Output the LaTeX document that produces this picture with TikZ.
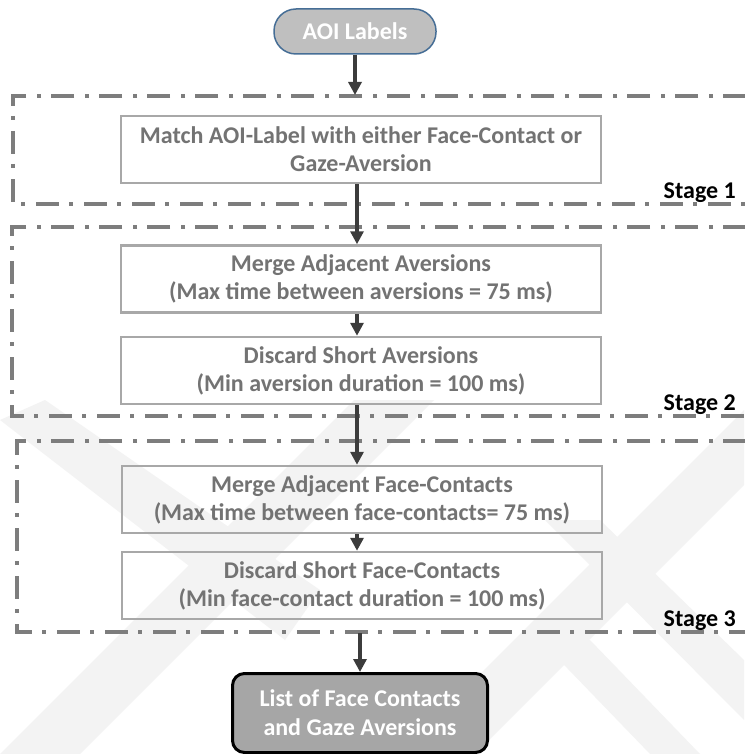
\documentclass[tikz,border=0pt]{standalone}
\usepackage{fontspec}
\setmainfont{Carlito}
\usetikzlibrary{arrows.meta}
\definecolor{dashgray}{RGB}{125,125,125}
\definecolor{boxgray}{RGB}{168,168,168}
\definecolor{txtgray}{RGB}{115,115,115}
\definecolor{arrowgray}{RGB}{60,60,60}
\definecolor{pillfill}{RGB}{191,191,191}
\definecolor{pillborder}{RGB}{70,110,150}
\definecolor{endfill}{RGB}{166,166,166}
\definecolor{wm}{RGB}{243,243,243}
\begin{document}
\begin{tikzpicture}[x=1pt,y=-1pt,
  font=\fontsize{24}{28}\selectfont\bfseries,
  stageline/.style={draw=dashgray, line width=3.2pt, dash pattern=on 23pt off 10pt on 4pt off 11pt},
  procbox/.style={draw=boxgray, line width=2.5pt, text=txtgray, align=center,
    minimum width=480pt, minimum height=67pt, inner sep=0pt},
  flow/.style={draw=arrowgray, line width=3.2pt, -{Triangle[length=13pt,width=13pt]}},
  stagelabel/.style={anchor=base east, text=black, inner sep=0pt},
  pill/.style={draw=pillborder, line width=1.5pt, fill=pillfill, text=white,
    rounded corners=22pt, minimum width=162pt, minimum height=45pt, inner sep=0pt},
  endbox/.style={draw=black, line width=3pt, fill=endfill, text=white, align=center,
    rounded corners=12pt, minimum width=255pt, minimum height=79pt, inner sep=0pt, font=\fontsize{24}{29}\selectfont\bfseries},
  wmband/.style={fill=wm, draw=none},
]
\useasboundingbox (0,0) rectangle (744,754);
\fill[white] (0,0) rectangle (744,754);

% faint background watermark
\fill[wmband] (0,754) -- (80,754) -- (434,400) -- (354,400) -- cycle;
\fill[wmband] (0,420) -- (45,400) -- (320,590) -- (285,640) -- cycle;
\fill[wmband] (400,754) -- (475,754) -- (744,485) -- (744,410) -- cycle;
\fill[wmband] (545,520) -- (600,520) -- (744,660) -- (744,720) -- cycle;
\fill[wmband] (540,640) -- (590,640) -- (700,754) -- (650,754) -- cycle;

% stage frames (open to the right)
\draw[stageline] (746,96) -- (13,96) -- (13,204) -- (746,204);
\draw[stageline] (746,227) -- (12,227) -- (12,416) -- (746,416);
\draw[stageline] (746,441) -- (17,441) -- (17,632) -- (746,632);

\node[stagelabel] (st1) at (736,198) {Stage 1};
\node[stagelabel] (st2) at (736,410) {Stage 2};
\node[stagelabel] (st3) at (736,626) {Stage 3};

% nodes
\node[pill] (aoi) at (355,31.5) {AOI Labels};
\node[procbox] (m1) at (361,149.5) {Match AOI-Label with either Face-Contact or\\Gaze-Aversion};
\node[procbox] (m2) at (361,279) {Merge Adjacent Aversions\\(Max time between aversions = 75 ms)};
\node[procbox] (m3) at (361,370.5) {Discard Short Aversions\\(Min aversion duration = 100 ms)};
\node[procbox] (m4) at (362,499.5) {Merge Adjacent Face-Contacts\\(Max time between face-contacts= 75 ms)};
\node[procbox] (m5) at (362,585.5) {Discard Short Face-Contacts\\(Min face-contact duration = 100 ms)};
\node[endbox] (out) at (360,713) {List of Face Contacts\\and Gaze Aversions};

\coordinate (s1top) at (355,95);
\coordinate (s3bot) at (360,633);

% connectors
\draw[flow] (aoi.south) -- (s1top);
\draw[flow] (m1.south -| 357,0) -- (m2.north -| 357,0);
\draw[flow] (m2.south -| 357,0) -- (m3.north -| 357,0);
\draw[flow] (m3.south -| 357,0) -- (m4.north -| 357,0);
\draw[flow] (m4.south -| 357,0) -- (m5.north -| 357,0);
\draw[flow] (s3bot) -- (out.north);
\end{tikzpicture}
\end{document}
